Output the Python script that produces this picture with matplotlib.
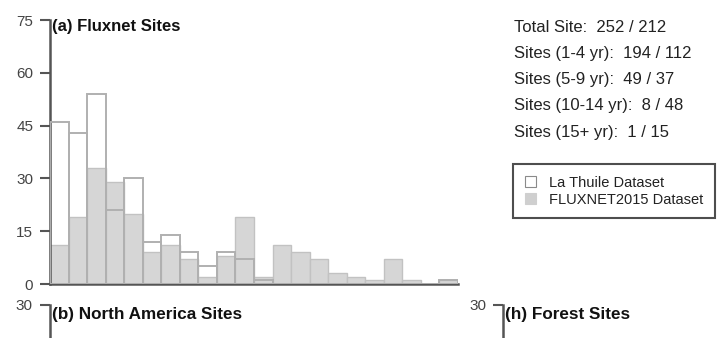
import matplotlib
matplotlib.use("Agg")
import matplotlib.pyplot as plt
from matplotlib.patches import Patch
import numpy as np

plt.rcParams["font.family"] = ["Liberation Sans", "DejaVu Sans"]

# Number of sites per record-length bin (years of data)
record_years = np.arange(22)
la_thuile = [46, 43, 54, 21, 30, 12, 14, 9, 5, 9, 7, 1, 0, 0, 0, 0, 0, 0, 0, 0, 0, 1]
fluxnet2015 = [11, 19, 33, 29, 20, 9, 11, 7, 2, 8, 19, 2, 11, 9, 7, 3, 2, 1, 7, 1, 0, 1]

y_ticks = [0, 15, 30, 45, 60, 75]
summary_lines = [
    "Total Site:  252 / 212",
    "Sites (1-4 yr):  194 / 112",
    "Sites (5-9 yr):  49 / 37",
    "Sites (10-14 yr):  8 / 48",
    "Sites (15+ yr):  1 / 15",
]
legend_labels = ["La Thuile Dataset", "FLUXNET2015 Dataset"]

W, H = 718, 338
AX_COL = "#555555"
LBL_COL = "#444444"

fig = plt.figure(figsize=(W / 100, H / 100), dpi=100)


def style_axis(ax, show_bottom=True):
    for s in ("top", "right"):
        ax.spines[s].set_visible(False)
    ax.spines["left"].set_color(AX_COL)
    ax.spines["left"].set_linewidth(1.8)
    ax.spines["bottom"].set_color(AX_COL)
    ax.spines["bottom"].set_linewidth(1.8)
    ax.spines["bottom"].set_visible(show_bottom)
    ax.set_xticks([])
    ax.tick_params(axis="y", direction="out", length=7, width=1.5,
                   color=AX_COL, labelcolor=LBL_COL, labelsize=11, pad=5)


# Panel (a): histogram of record lengths
ax = fig.add_axes([50 / W, (H - 284) / H, 408 / W, 264 / H])
ax.bar(record_years, fluxnet2015, width=1, align="edge",
       color="#d6d6d6", edgecolor="#c2c2c2", linewidth=1.0, zorder=2)
ax.bar(record_years, la_thuile, width=1, align="edge",
       facecolor="none", edgecolor="#b0b0b0", linewidth=1.4, zorder=3)
ax.set_xlim(0, 22)
ax.set_ylim(0, 75)
ax.set_yticks(y_ticks)
style_axis(ax)
fig.text(52 / W, 1 - 27 / H, "(a) Fluxnet Sites", fontsize=12,
         fontweight="bold", color="#111111", va="center", ha="left")

# Summary of site counts (La Thuile / FLUXNET2015)
for i, line in enumerate(summary_lines):
    fig.text(514 / W, 1 - (27 + 26.3 * i) / H, line, fontsize=12,
             color="#222222", va="center", ha="left")

handles = [
    Patch(facecolor="white", edgecolor="#8a8a8a", linewidth=0.8, label=legend_labels[0]),
    Patch(facecolor="#cfcfcf", edgecolor="#cfcfcf", linewidth=0.8, label=legend_labels[1]),
]
leg = fig.legend(handles=handles, loc="upper left",
                 bbox_to_anchor=(513 / W, 1 - 164 / H), borderaxespad=0,
                 frameon=True, fancybox=False, edgecolor="#222222",
                 fontsize=10.5, handlelength=0.75, handleheight=0.75,
                 labelspacing=0.2, borderpad=0.8, handletextpad=0.9)
leg.get_frame().set_linewidth(1.5)
for t in leg.get_texts():
    t.set_color("#222222")

# Panels (b) and (h): only their upper edge falls inside the figure
for left, title in ((49.5 / W, "(b) North America Sites"), (503 / W, "(h) Forest Sites")):
    axb = fig.add_axes([left, (H - 305 - 264) / H, 200 / W, 264 / H])
    axb.set_ylim(0, 30)
    axb.set_yticks([30])
    style_axis(axb, show_bottom=False)
    fig.text(left + 2 / W, 1 - 314 / H, title, fontsize=12.3,
             fontweight="bold", color="#111111", va="center", ha="left")

fig.savefig("out.png", dpi=100)
